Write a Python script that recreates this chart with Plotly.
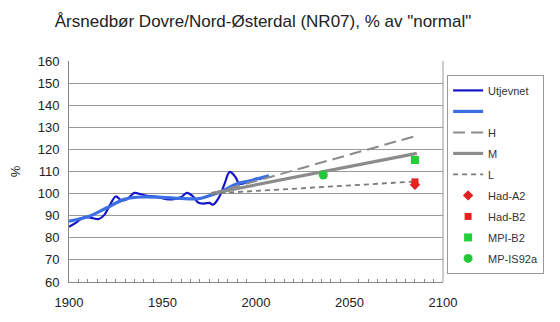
import plotly.graph_objects as go

# Data
obs_years = [1900, 1904, 1908, 1912, 1916, 1919, 1922, 1925, 1928, 1931, 1935, 1938, 1942, 1947,
             1952, 1956, 1960, 1963, 1966, 1969, 1972, 1975, 1977, 1980, 1983, 1986, 1989, 1991,
             1994, 1997, 2000, 2003]
obs_vals = [85, 87, 89.3, 89, 88.5, 90.5, 95, 98.7, 97, 97.5, 100.3, 99.8, 99, 98.5,
            97.5, 97.5, 98.5, 100.3, 99, 96, 95.5, 95.8, 95, 98, 104, 109.8, 107.5, 104.5,
            104.8, 105.5, 106.8, 106.5]
smooth_years = [1900, 1910, 1920, 1930, 1940, 1950, 1960, 1970, 1975, 1980, 1985, 1990, 1995, 2000, 2007]
smooth_vals = [87.5, 89.5, 93.5, 97.5, 98.5, 98.3, 97.8, 97.8, 99, 100.5, 102.5, 104.5, 105.5, 106.5, 108]
scen_years = [1976, 2086]
scen_H = [100, 126.2]
scen_M = [100, 118.2]
scen_L = [100, 105.5]
had_a2 = (2085, 104)
had_b2 = (2085, 105.3)
mpi_b2 = (2085, 115.2)
mp_is92a = (2036, 108.4)

fig = go.Figure()
fig.add_trace(go.Scatter(x=obs_years, y=obs_vals, mode="lines", name="Utjevnet", legendgroup="g1",
                         line=dict(color="#1414c8", width=2.2, shape="spline", smoothing=1.0)))
fig.add_trace(go.Scatter(x=smooth_years, y=smooth_vals, mode="lines", name=" ", legendgroup="g2",
                         line=dict(color="#3c6ee6", width=3.2, shape="spline")))
fig.add_trace(go.Scatter(x=scen_years, y=scen_H, mode="lines", name="H", legendgroup="g3",
                         line=dict(color="#8c8c8c", width=2, dash="12px,6px")))
fig.add_trace(go.Scatter(x=scen_years, y=scen_M, mode="lines", name="M", legendgroup="g4",
                         line=dict(color="#8c8c8c", width=3.2)))
fig.add_trace(go.Scatter(x=scen_years, y=scen_L, mode="lines", name="L", legendgroup="g5",
                         line=dict(color="#7a7a7a", width=1.8, dash="5px,4px")))
fig.add_trace(go.Scatter(x=[had_a2[0]], y=[had_a2[1]], mode="markers", name="Had-A2", legendgroup="g6",
                         marker=dict(symbol="diamond", color="#e02020", size=8)))
fig.add_trace(go.Scatter(x=[had_b2[0]], y=[had_b2[1]], mode="markers", name="Had-B2", legendgroup="g7",
                         marker=dict(symbol="square", color="#e82020", size=7)))
fig.add_trace(go.Scatter(x=[mpi_b2[0]], y=[mpi_b2[1]], mode="markers", name="MPI-B2", legendgroup="g8",
                         marker=dict(symbol="square", color="#22d03a", size=8)))
fig.add_trace(go.Scatter(x=[mp_is92a[0]], y=[mp_is92a[1]], mode="markers", name="MP-IS92a", legendgroup="g9",
                         marker=dict(symbol="circle", color="#22c83a", size=9)))

fig.update_layout(
    width=560, height=322,
    margin=dict(l=69, r=117, t=61, b=40),
    paper_bgcolor="white", plot_bgcolor="white",
    font=dict(family="Liberation Sans, Arial, sans-serif", color="#222", size=13),
    title=dict(text='Årsnedbør Dovre/Nord-Østerdal (NR07), % av "normal"',
               x=263 / 560, xref="container", xanchor="center",
               y=1 - 21 / 322, yref="container", yanchor="middle",
               font=dict(size=17, color="#222")),
    showlegend=True,
    legend=dict(x=1.011, y=0.937, xanchor="left", yanchor="top",
                bordercolor="#999", borderwidth=1, bgcolor="white",
                font=dict(size=11, color="#333"), tracegroupgap=2,
                itemwidth=30),
    xaxis=dict(range=[1900, 2100], dtick=50, tick0=1900, showgrid=False,
               showline=True, linecolor="#888", linewidth=1, mirror=False,
               ticks="", zeroline=False, ticklabelstandoff=8,
               minor=dict(dtick=5, ticks="inside", ticklen=3, tickcolor="#888"),
               tickfont=dict(size=13)),
    yaxis=dict(range=[60, 160], dtick=10, showgrid=True, gridcolor="#999", gridwidth=1,
               showline=True, linecolor="#888", linewidth=1, zeroline=False,
               ticks="", ticklabelstandoff=6,
               title=dict(text="%", font=dict(size=13), standoff=14),
               tickfont=dict(size=13)),
)
fig.add_shape(type="line", xref="paper", yref="paper", x0=1, x1=1, y0=0, y1=1,
              line=dict(color="#999", width=1))

fig.write_html("out.html")
